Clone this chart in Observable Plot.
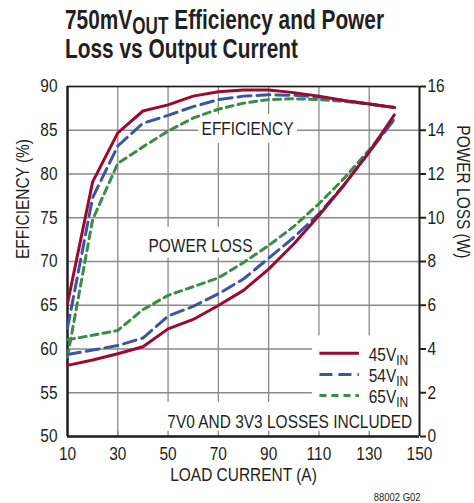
<!DOCTYPE html>
<html>
<head>
<meta charset="utf-8">
<script src="https://cdn.jsdelivr.net/npm/d3@7"></script>
<script src="https://cdn.jsdelivr.net/npm/@observablehq/plot@0.6"></script>
<style>
  html, body { margin: 0; padding: 0; background: #fff; }
  #wrap { position: relative; width: 474px; height: 503px; overflow: hidden; }
  .title {
    position: absolute; left: 65px;
    font-family: "Liberation Sans", Arial, sans-serif;
    font-weight: bold; font-size: 28px; line-height: 28px; color: #231f20;
    white-space: nowrap; transform: scaleX(0.745); transform-origin: 0 0;
  }
  .t1 { top: 6px; }
  .t2 { top: 35px; }
  .title sub { font-size: 23px; line-height: 0; vertical-align: -5px; }
  #chart { position: absolute; left: 0; top: 72px; }
</style>
</head>
<body>
<div id="wrap">
  <div class="title t1">750mV<sub>OUT</sub> Efficiency and Power</div>
  <div class="title t2">Loss vs Output Current</div>
  <div id="chart"></div>
</div>
<script>
// ---- data ----
const current = [10, 20, 30, 40, 50, 60, 70, 80, 90, 100, 110, 120, 130, 140];

const eff45 = [65.2, 79.1, 84.7, 87.2, 87.9, 88.9, 89.4, 89.6, 89.6, 89.3, 88.9, 88.4, 88.0, 87.6];
const eff54 = [62.4, 77.3, 83.2, 85.8, 86.7, 87.7, 88.5, 88.9, 89.05, 89.0, 88.8, 88.4, 88.0, 87.6];
const eff65 = [59.1, 74.8, 81.2, 83.1, 84.9, 86.4, 87.4, 88.1, 88.5, 88.6, 88.5, 88.3, 88.0, 87.6];

const loss45 = [3.25, 3.5, 3.78, 4.1, 4.92, 5.35, 5.99, 6.68, 7.65, 8.8, 10.1, 11.5, 13.0, 14.7];
const loss54 = [3.75, 3.95, 4.16, 4.5, 5.5, 5.95, 6.52, 7.2, 8.15, 9.1, 10.18, 11.5, 13.0, 14.5];
const loss65 = [4.42, 4.63, 4.85, 5.8, 6.45, 6.85, 7.25, 7.95, 8.73, 9.6, 10.64, 11.8, 13.1, 14.5];

const seriesNames = ["45V_IN", "54V_IN", "65V_IN"];
const currentTicks = [10, 30, 50, 70, 90, 110, 130, 150];
const effTicks = [50, 55, 60, 65, 70, 75, 80, 85, 90];
const lossTicks = [0, 2, 4, 6, 8, 10, 12, 14, 16];

// annotation texts
const labelEff = "EFFICIENCY";
const labelLoss = "POWER LOSS";
const labelNote = "7V0 AND 3V3 LOSSES INCLUDED";
const xTitle = "LOAD CURRENT (A)";
const yTitleLeft = "EFFICIENCY (%)";
const yTitleRight = "POWER LOSS (W)";
const footnote = "88002 G02";

// ---- styling / placement (kept separate from data) ----
const colors = ["#9b0a30", "#3a55a5", "#3a8c48"];
const dashes = [null, "13,6", "7,5"];
const font = '"Liberation Sans", Arial, sans-serif';
const condense = 0.86;
const ink = "#231f20";
const gridColor = "#8a8a8a";

// power loss (W) is shown against the right axis: 0..16 W maps onto 50..90 %
const lossToY = w => 50 + w * (40 / 16);

const seriesEff = [eff45, eff54, eff65];
const seriesLoss = [loss45, loss54, loss65];
const rows = [];
seriesNames.forEach((name, s) => {
  current.forEach((c, i) => {
    rows.push({series: name, s, current: c, eff: seriesEff[s][i], loss: lossToY(seriesLoss[s][i])});
  });
});

// annotation placement in data units
const annoCentered = [
  {text: labelEff, x: 81.6, y: 85.1},
  {text: labelLoss, x: 62.9, y: 71.7}
];
const annoRight = [
  {text: labelNote, x: 147.1, y: 51.6}
];
const whiteBoxes = [
  {x1: 62.1, x2: 101.5, y1: 83.5, y2: 86.8},
  {x1: 40.2, x2: 85.6, y1: 70.4, y2: 73.9},
  {x1: 47, x2: 150, y1: 50.15, y2: 53.9},
  {x1: 107.4, x2: 150, y1: 53.8, y2: 61.5}
];
const legendX1 = 110.2, legendX2 = 125.9, legendTextX = 129.8;
const legendY = [59.52, 57.09, 54.69];
const legendRows = seriesNames.map((name, s) => ({name, s, y: legendY[s]}));

const marks = [
  Plot.gridX(currentTicks, {stroke: gridColor, strokeOpacity: 1, strokeWidth: 1.3}),
  Plot.gridY(effTicks, {stroke: gridColor, strokeOpacity: 1, strokeWidth: 1.3}),
  Plot.rect(whiteBoxes, {x1: "x1", x2: "x2", y1: "y1", y2: "y2", fill: "white"}),
  Plot.ruleX(currentTicks.slice(1, -1), {y1: 50, y2: 50.6, stroke: gridColor, strokeWidth: 1.3}),
  Plot.ruleY([90], {stroke: ink, strokeWidth: 1.5}),
  Plot.ruleX([150], {stroke: ink, strokeWidth: 2}),
  Plot.ruleX([10], {stroke: ink, strokeWidth: 2.5}),
  Plot.ruleY([50], {stroke: ink, strokeWidth: 2.5}),
  Plot.text(annoCentered, {x: "x", y: "y", text: "text", textAnchor: "middle", fontSize: 18, fill: ink}),
  Plot.text(annoRight, {x: "x", y: "y", text: "text", textAnchor: "end", fontSize: 18, fill: ink})
];

// curves: green, blue, red (red on top)
[2, 1, 0].forEach(s => {
  const data = rows.filter(d => d.s === s);
  const opts = {stroke: colors[s], strokeWidth: 3, strokeDasharray: dashes[s] || undefined, strokeLinejoin: "round"};
  marks.push(Plot.line(data, {x: "current", y: "eff", ...opts}));
  marks.push(Plot.line(data, {x: "current", y: "loss", ...opts}));
});

// legend
legendRows.forEach(d => {
  marks.push(Plot.link([d], {x1: () => legendX1, x2: () => legendX2, y1: "y", y2: "y",
    stroke: colors[d.s], strokeWidth: 3, strokeDasharray: dashes[d.s] || undefined}));
});
marks.push(Plot.text(legendRows, {x: () => legendTextX, y: "y", text: "name", textAnchor: "start", dy: 2, fontSize: 18, fill: ink}));

// axes
marks.push(
  Plot.axisX(currentTicks, {tickSize: 0, tickPadding: 11, label: null, fontSize: 18}),
  Plot.axisY(effTicks, {anchor: "left", tickSize: 0, tickPadding: 10, label: null, fontSize: 18}),
  Plot.axisY(effTicks, {anchor: "right", tickSize: 6, tickPadding: 2, strokeWidth: 2, label: null, fontSize: 18,
    tickFormat: d => String(lossTicks[effTicks.indexOf(d)])}),
  Plot.text([xTitle], {frameAnchor: "bottom", dy: 44, text: d => d, fontSize: 18, fill: ink}),
  Plot.text([yTitleLeft], {frameAnchor: "left", dx: -44.5, dy: -2.5, rotate: -90, text: d => d, fontSize: 18, fill: ink}),
  Plot.text([yTitleRight], {frameAnchor: "right", dx: 43, dy: -3, rotate: 90, text: d => d, fontSize: 18, fill: ink}),
  Plot.text([footnote], {frameAnchor: "bottom-right", dx: 1, dy: 64, textAnchor: "end", text: d => d, fontSize: 11, fill: ink})
);

const svg = Plot.plot({
  width: 474,
  height: 431,
  marginTop: 14,
  marginBottom: 67,
  marginLeft: 67,
  marginRight: 55,
  x: {type: "linear", domain: [10, 150]},
  y: {type: "linear", domain: [50, 90]},
  style: {fontFamily: font, fontSize: "18px", color: ink, background: "white", overflow: "visible"},
  marks
});

const ns = "http://www.w3.org/2000/svg";
svg.querySelectorAll("text").forEach(t => {
  // subscripts for legend labels (e.g. 45V_IN -> 45V with subscript IN)
  const s = t.textContent;
  if (s.includes("_") && t.children.length === 0) {
    const [main, sub] = s.split("_");
    t.textContent = "";
    const a = document.createElementNS(ns, "tspan");
    a.textContent = main;
    const b = document.createElementNS(ns, "tspan");
    b.textContent = sub;
    b.setAttribute("font-size", "14");
    b.setAttribute("dy", "4");
    t.appendChild(a);
    t.appendChild(b);
  }
  // condensed look: narrow every text horizontally around its own anchor
  let x = parseFloat(t.getAttribute("x"));
  if (!isFinite(x)) x = 0;
  const tr = t.getAttribute("transform") || "";
  t.setAttribute("transform", `${tr} translate(${x},0) scale(${condense},1) translate(${-x},0)`.trim());
});

document.getElementById("chart").appendChild(svg);
</script>
</body>
</html>
